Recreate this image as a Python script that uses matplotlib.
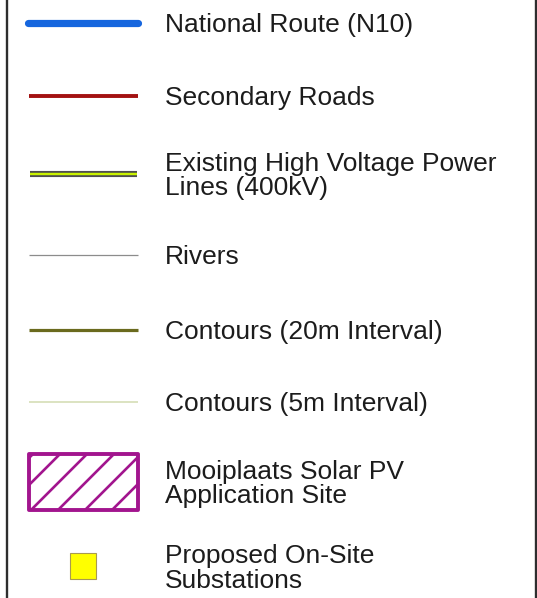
import numpy as np
import matplotlib
matplotlib.use("Agg")
import matplotlib.pyplot as plt
from matplotlib.patches import Rectangle

# ---- legend content ----
labels = [
    "National Route (N10)",
    "Secondary Roads",
    "Existing High Voltage Power\nLines (400kV)",
    "Rivers",
    "Contours (20m Interval)",
    "Contours (5m Interval)",
    "Mooiplaats Solar PV\nApplication Site",
    "Proposed On-Site\nSubstations",
]
symbol_kinds = ["line", "line", "power", "line", "line", "line", "hatch", "square"]
symbol_colors = ["#1666DE", "#A31212", "#4F4F4F", "#8C8C8C", "#6A6A1E", "#D6DEB6", "#A2158E", "#FFFF00"]
symbol_widths = [5.2, 2.8, 4.4, 0.9, 2.3, 1.2, 2.8, 0.8]

# ---- layout (pixels) ----
W, H = 537, 598
row_y = [22.5, 95.5, 174, 255, 330, 402, 482, 566]
sym_x0, sym_x1 = 28, 138
text_x = 165
fs = 19
cap_half = 9.5
line_gap = 24

fig = plt.figure(figsize=(W / 100, H / 100), dpi=100)
ax = fig.add_axes([0, 0, 1, 1])
ax.set_xlim(0, W)
ax.set_ylim(H, 0)
ax.axis("off")

# frame sides
ax.plot([7, 7], [0, H], color="#2e2e2e", lw=1.7, solid_capstyle="butt")
ax.plot([535.5, 535.5], [0, H], color="#2e2e2e", lw=1.7, solid_capstyle="butt")

for lab, kind, col, lw, y in zip(labels, symbol_kinds, symbol_colors, symbol_widths, row_y):
    if kind == "line":
        cap = "round" if lw > 4 else "butt"
        x0 = sym_x0 if lw > 4 else sym_x0 + 1
        ax.plot([x0, sym_x1], [y, y], color=col, lw=lw, solid_capstyle=cap)
    elif kind == "power":
        ax.plot([sym_x0 + 2, sym_x1 - 1], [y, y], color=col, lw=lw, solid_capstyle="butt")
        ax.plot([sym_x0 + 2, sym_x1 - 1], [y, y], color="#C9F200", lw=1.7, solid_capstyle="butt")
    elif kind == "hatch":
        x0, x1 = sym_x0 + 1, sym_x1
        y0, y1 = y - 28, y + 28
        rect = Rectangle((x0, y0), x1 - x0, y1 - y0, facecolor="white",
                         edgecolor="none")
        ax.add_patch(rect)
        h = y1 - y0
        for c in np.arange(x0 - h + 4, x1 + 40, 27):
            ln, = ax.plot([c, c + h], [y1, y0], color=col, lw=1.9)
            ln.set_clip_path(rect)
        ax.add_patch(Rectangle((x0, y0), x1 - x0, y1 - y0, facecolor="none",
                               edgecolor=col, lw=lw, joinstyle="round"))
    elif kind == "square":
        ax.add_patch(Rectangle((70, y - 13), 26, 26, facecolor=col,
                               edgecolor="#A89A50", lw=lw))

    parts = lab.split("\n")
    n = len(parts)
    for i, p in enumerate(parts):
        yb = y + cap_half + (i - (n - 1) / 2) * line_gap
        ax.text(text_x, yb, p, fontsize=fs, family="Liberation Sans",
                color="#1c1c1c", va="baseline", ha="left")

fig.savefig("out.png", dpi=100, facecolor="white")
